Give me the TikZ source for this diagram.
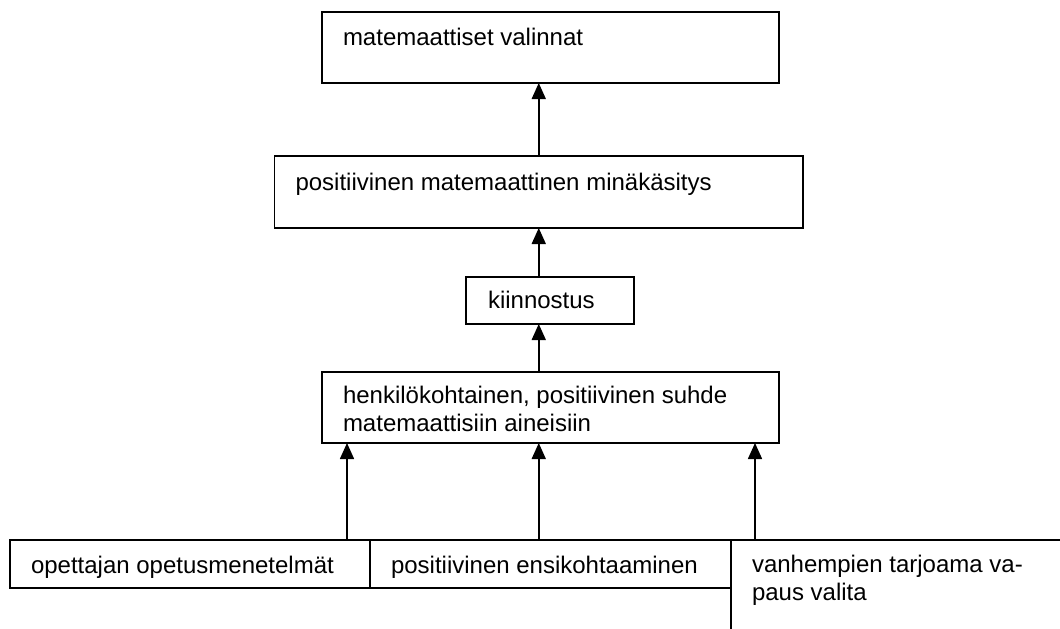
\documentclass[tikz,border=0pt]{standalone}
\usepackage{fontspec}
\setmainfont{Liberation Sans}
\usetikzlibrary{arrows.meta,calc}
\begin{document}
\begin{tikzpicture}[x=1pt,y=-1pt,
  box/.style={draw=black,line width=1.6pt,rectangle,inner sep=0pt,outer sep=0pt,fill=white},
  lbl/.style={inner sep=0pt,outer sep=0pt,font=\fontsize{24}{28}\selectfont,align=left},
  arr/.style={line width=1.6pt,-{Triangle[width=14pt,length=16pt]}}]
\useasboundingbox (0,0) rectangle (1060,629);
\clip (0,0) rectangle (1060,629);
\fill[white] (0,0) rectangle (1060,629);
% boxes
\node[box,minimum width=457pt,minimum height=71pt] (top) at (550.5,47.5) {};
\node[box,minimum width=528.5pt,minimum height=72pt] (sec) at (538.75,192) {};
\node[box,minimum width=168pt,minimum height=47pt] (kiin) at (550,300.5) {};
\node[box,minimum width=457pt,minimum height=71pt] (henk) at (550.5,407.5) {};
\node[box,minimum width=360pt,minimum height=48pt] (b1) at (190,564) {};
\node[box,minimum width=361pt,minimum height=48pt] (b2) at (550.5,564) {};
\node[box,minimum width=369pt,minimum height=140pt] (b3) at (915.5,610) {};
% texts
\node[lbl,anchor=base west] (ttop) at ($(top.north west)+(21,33)$) {matemaattiset valinnat};
\node[lbl,anchor=base west] (tsec) at ($(sec.north west)+(21,34)$) {positiivinen matemaattinen minäkäsitys};
\node[lbl,anchor=base west] (tkiin) at ($(kiin.north west)+(22,31)$) {kiinnostus};
\node[lbl,anchor=north west] (thenk) at ($(henk.north west)+(21,14)$) {henkilökohtainen, positiivinen suhde\\matemaattisiin aineisiin};
\node[lbl,anchor=base west] (tb1) at ($(b1.north west)+(21,33)$) {opettajan opetusmenetelmät};
\node[lbl,anchor=base west] (tb2) at ($(b2.north west)+(21,33)$) {positiivinen ensikohtaaminen};
\node[lbl,anchor=north west] (tb3) at ($(b3.north west)+(21,15.5)$) {vanhempien tarjoama va-\\paus valita};
% connector axes
\coordinate (axis) at (538.75,0);
\coordinate (c1) at (347,0);
\coordinate (c3) at (755,0);
% connectors
\draw[arr] (axis |- sec.north) -- (axis |- top.south);
\draw[arr] (axis |- kiin.north) -- (axis |- sec.south);
\draw[arr] (axis |- henk.north) -- (axis |- kiin.south);
\draw[arr] (c1 |- b1.north) -- (c1 |- henk.south);
\draw[arr] (axis |- b2.north) -- (axis |- henk.south);
\draw[arr] (c3 |- b3.north) -- (c3 |- henk.south);
\end{tikzpicture}
\end{document}
